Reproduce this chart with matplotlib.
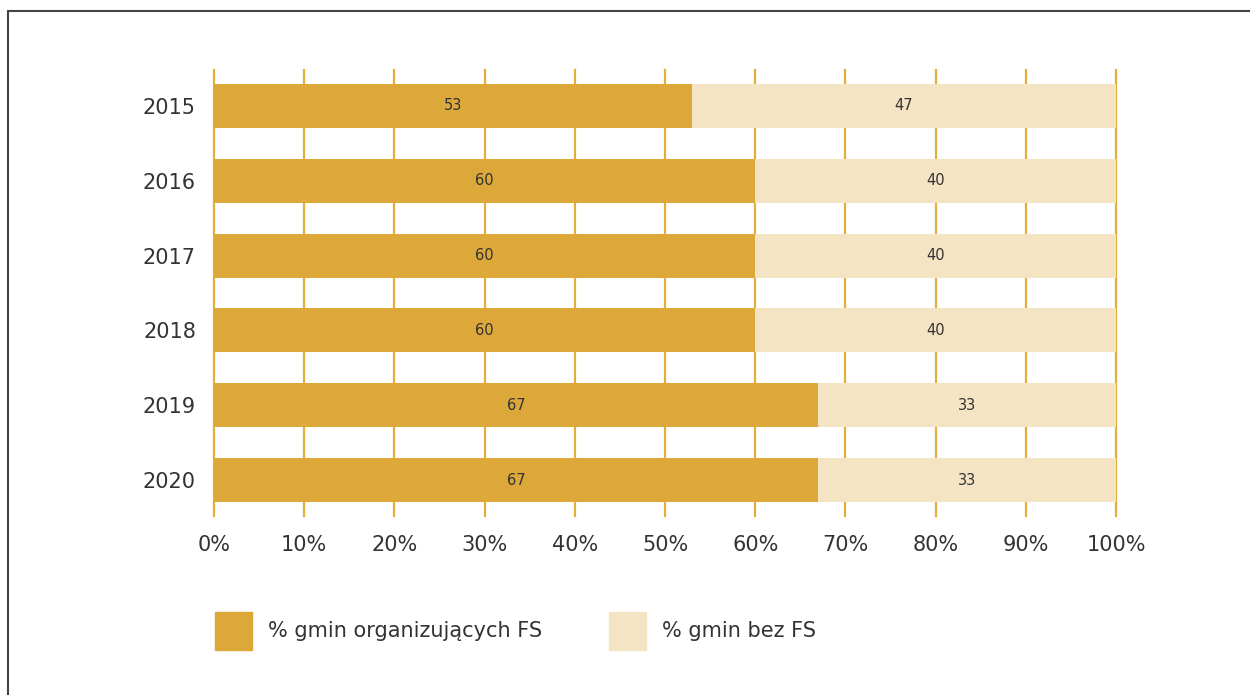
import matplotlib.pyplot as plt
from matplotlib.patches import Rectangle, Patch

# Data
years = ["2015", "2016", "2017", "2018", "2019", "2020"]
with_fs = [53, 60, 60, 60, 67, 67]
without_fs = [47, 40, 40, 40, 33, 33]
ticks = [0, 10, 20, 30, 40, 50, 60, 70, 80, 90, 100]
labels = ["% gmin organizujących FS", "% gmin bez FS"]

dark = "#DCA83A"
light = "#F5E4C3"
grid = "#E5AE3A"
text_col = "#333333"

plt.rcParams['font.family'] = ['DejaVu Sans']

fig = plt.figure(figsize=(12.5, 6.95), dpi=100)
ax = fig.add_axes([214 / 1250, 1 - 516 / 695, 902 / 1250, 446 / 695])

# Stacked horizontal bars
pos = range(len(years))
b1 = ax.barh(pos, with_fs, height=0.59, color=dark, zorder=2)
b2 = ax.barh(pos, without_fs, left=with_fs, height=0.59, color=light, zorder=2)
ax.bar_label(b1, label_type='center', fontsize=10.5, color=text_col)
ax.bar_label(b2, label_type='center', fontsize=10.5, color=text_col)

ax.set_xlim(0, 100)
ax.set_ylim(len(years) - 0.52, -0.48)
ax.set_yticks(list(pos))
ax.set_yticklabels(years)
ax.set_xticks(ticks)
ax.set_xticklabels([f"{t}%" for t in ticks])
ax.tick_params(length=0, labelsize=15, colors=text_col)
ax.tick_params(axis='y', pad=13)
ax.tick_params(axis='x', pad=14)
for s in ax.spines.values():
    s.set_visible(False)
ax.grid(axis='x', color=grid, linewidth=1.6, zorder=1)
ax.set_axisbelow(True)
for gl in ax.get_xgridlines():
    gl.set_clip_on(False)

# Legend
handles = [Patch(color=dark), Patch(color=light)]
fig.legend(handles, labels, loc='center left', bbox_to_anchor=(196 / 1250, 1 - 631 / 695),
           ncol=2, frameon=False, fontsize=15, handlelength=1.8, handleheight=2.5,
           handletextpad=0.75, columnspacing=3.2, labelcolor=text_col)

# Frame around the figure (open at right and bottom)
fig.patches.append(Rectangle((8 / 1250, -0.1), 1.2, 1 - 11.5 / 695 + 0.1,
                             transform=fig.transFigure, fill=False,
                             edgecolor="#444444", linewidth=1.5))

fig.savefig("out.png", dpi=100)
